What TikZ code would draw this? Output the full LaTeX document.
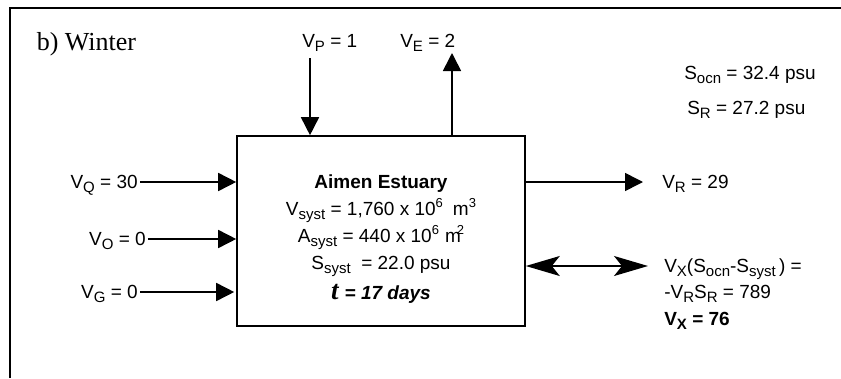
\documentclass[tikz,border=0pt]{standalone}
\usepackage{fontspec}
\setmainfont{Liberation Sans}
\newfontfamily\winterfont{Liberation Serif}
\usetikzlibrary{arrows.meta}

\newcommand\bigsans{\fontsize{19}{27}\selectfont}
\newcommand\lo[1]{\raisebox{-4pt}{\fontsize{15}{15}\selectfont #1}}
\newcommand\hi[1]{\raisebox{8pt}{\fontsize{13}{13}\selectfont #1}}

\begin{document}
\begin{tikzpicture}[x=1pt, y=-1pt, line width=1.6pt,
    flow/.style={-{Triangle[length=18pt,width=18pt]}},
    mix/.style={{Stealth[length=34pt,width=20pt,inset=8pt]}-{Stealth[length=34pt,width=20pt,inset=8pt]}},
    lbl/.style={font=\bigsans, text height=13.6pt, text depth=0pt, inner sep=1.5pt}]
    \useasboundingbox (0,0) rectangle (841,378);

    % Khung
    \draw (10,378) -- (10,8) -- (841,8);
    \node[anchor=base west, inner sep=0, font=\winterfont\fontsize{26}{30}\selectfont] (season) at (36,50) {b) Winter};

    % Hộp cửa sông
    \node[draw, minimum width=288pt, minimum height=190pt, inner sep=0] (est) at (381,231) {};
    \node[font=\bigsans, anchor=north, align=center, inner sep=0] (esttxt) at (381,174.4) {%
        \textbf{Aimen Estuary}\\
        V\lo{syst} = 1,760 x 10\hi{6}\hspace{10pt}m\hi{3}\\
        A\lo{syst} = 440 x 10\hi{6}\hspace{6pt}m\kern-4pt\hi{2}\\
        S\lo{syst}\ \ = 22.0 psu\\[3pt]
        {\winterfont\bfseries\itshape\fontsize{27}{27}\selectfont t} \textbf{\textit{= 17 days}}};

    % Dòng vào
    \node[lbl, anchor=east] (vq) at (140,182) {V\lo{Q} = 30};
    \node[lbl, anchor=east] (vo) at (148,239) {V\lo{O} = 0};
    \node[lbl, anchor=east] (vg) at (140,292) {V\lo{G} = 0};
    \draw[flow] (vq) -- (vq -| est.west);
    \draw[flow] (vo) -- (vo -| est.west);
    \draw[flow] (vg) -- ([xshift=-2pt]vg -| est.west);

    % Mưa và bốc hơi
    \node[lbl, anchor=west] (vp) at (300,41) {V\lo{P} = 1};
    \node[lbl, anchor=west] (ve) at (398,41) {V\lo{E} = 2};
    \coordinate (vpin) at (310,58);
    \coordinate (veout) at (452,53);
    \draw[flow] (vpin) -- (vpin |- est.north);
    \draw[flow] (veout |- est.north) -- (veout);

    % Độ mặn
    \node[lbl, anchor=west] (socn) at (682,73) {S\lo{ocn} = 32.4 psu};
    \node[lbl, anchor=west] (sr) at (685,108) {S\lo{R} = 27.2 psu};

    % Dòng ra và trao đổi
    \node[lbl, anchor=west] (vr) at (660,182) {V\lo{R} = 29};
    \draw[flow] (vr -| est.east) -- ([xshift=-17pt]vr.west);
    \node[lbl, anchor=west] (vx) at (662,266) {V\lo{X}(S\lo{ocn}-S\lo{syst}\,) =};
    \node[lbl, anchor=west] (vxa) at (662,292) {-V\lo{R}S\lo{R} = 789};
    \node[lbl, anchor=west, font=\bigsans\bfseries] (vxb) at (662,319) {V\lo{X} = 76};
    \draw[mix] (vx -| est.east) -- ([xshift=-14pt]vx.west);
\end{tikzpicture}
\end{document}
